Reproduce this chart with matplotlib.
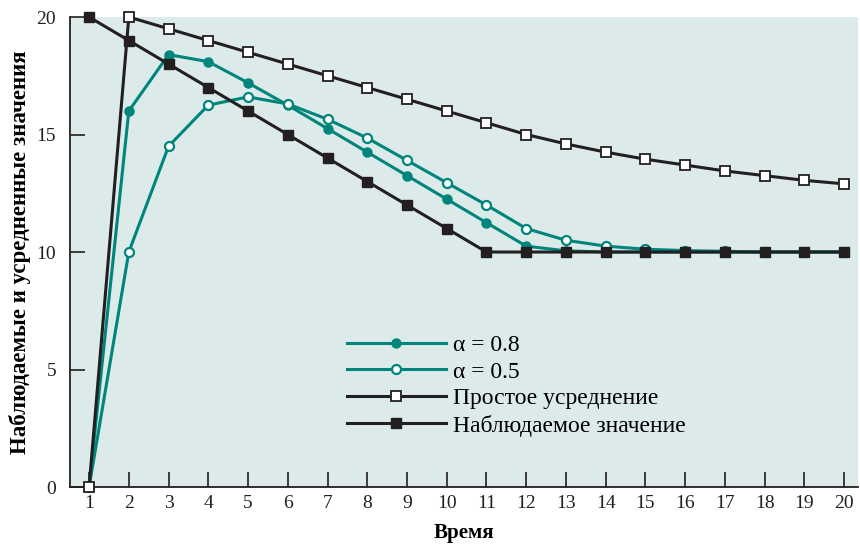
import matplotlib.pyplot as plt

periods = list(range(1, 21))
observed = [20, 19, 18, 17, 16, 15, 14, 13, 12, 11, 10, 10, 10, 10, 10, 10, 10, 10, 10, 10]
simple_avg = [0, 20, 19.5, 19, 18.5, 18, 17.5, 17, 16.5, 16, 15.5, 15, 14.6, 14.25, 13.95,
              13.7, 13.45, 13.25, 13.05, 12.9]
alpha_08 = [0, 16, 18.4, 18.1, 17.2, 16.25, 15.25, 14.25, 13.25, 12.25, 11.25, 10.25,
            10.05, 10.0, 10.0, 10.0, 10.0, 10.0, 10.0, 10.0]
alpha_05 = [0, 10, 14.5, 16.25, 16.6, 16.3, 15.65, 14.85, 13.9, 12.95, 12.0, 11.0,
            10.5, 10.25, 10.12, 10.06, 10.03, 10.0, 10.0, 10.0]

teal = "#00857c"
dark = "#231f20"
bg = "#dceaea"

plt.rcParams["font.family"] = ["Liberation Serif", "DejaVu Serif"]

fig = plt.figure(figsize=(8.6, 5.49), dpi=100)
ax = fig.add_axes([0.0814, 0.1129, 0.9163, 0.8561])
ax.set_facecolor(bg)

ax.plot(periods, alpha_08, color=teal, lw=2.2, marker="o", ms=6.5, mfc=teal, mec=teal,
        label="α = 0.8", clip_on=False, zorder=3)
ax.plot(periods, alpha_05, color=teal, lw=2.2, marker="o", ms=6.5, mfc="white", mec=teal,
        mew=1.6, label="α = 0.5", clip_on=False, zorder=3)
ax.plot(periods, simple_avg, color=dark, lw=2.2, marker="s", ms=7.5, mfc="white", mec=dark,
        mew=1.3, label="Простое усреднение", clip_on=False, zorder=3)
ax.plot(periods, observed, color=dark, lw=2.2, marker="s", ms=7.5, mfc=dark, mec=dark,
        label="Наблюдаемое значение", clip_on=False, zorder=3)

ax.set_xlim(0.52, 20.35)
ax.set_ylim(0, 20)
ax.set_xticks(periods)
ax.set_yticks([0, 5, 10, 15, 20])
ax.tick_params(direction="in", length=11, width=1.2, labelsize=14, colors=dark)
ax.tick_params(axis="x", pad=6)
ax.tick_params(axis="y", pad=10)
for s in ["top", "right"]:
    ax.spines[s].set_visible(False)
for s in ["left", "bottom"]:
    ax.spines[s].set_color(dark)
    ax.spines[s].set_linewidth(1.3)

ax.set_xlabel("Время", fontsize=15, fontweight="bold", labelpad=8)
ax.set_ylabel("Наблюдаемые и усредненные значения", fontsize=16.5, fontweight="bold",
              labelpad=4)

ax.legend(loc="upper left", bbox_to_anchor=(0.33, 0.36), frameon=False, fontsize=17,
          handlelength=4.2, handletextpad=0.3, labelspacing=0.22, borderpad=0.2)

fig.savefig("out.png", dpi=100)
